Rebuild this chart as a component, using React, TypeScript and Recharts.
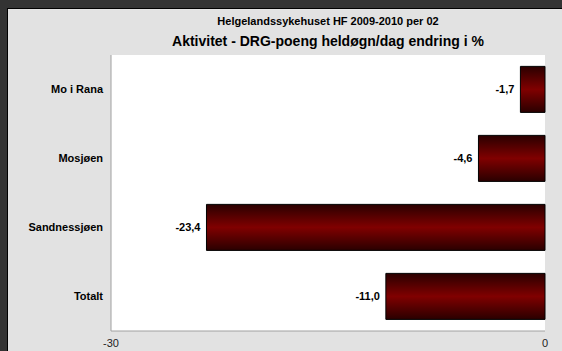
import { BarChart, Bar, XAxis, YAxis, CartesianGrid, LabelList } from "recharts";

const units = ["Mo i Rana", "Mosjøen", "Sandnessjøen", "Totalt"];
const change = [-1.7, -4.6, -23.4, -11.0];
const xTicks = [-30, 0];

const data = units.map((name, i) => ({ name, value: change[i] }));

const font = "'Liberation Sans', Arial, Helvetica, sans-serif";

export default function App() {
  return (
    <div
      style={{
        position: "absolute",
        left: 0,
        top: 0,
        width: 562,
        height: 351,
        background: "#333333",
        overflow: "hidden",
        fontFamily: font,
      }}
    >
      <div
        style={{
          position: "absolute",
          left: 7,
          top: 8,
          width: 562,
          height: 351,
          background: "#e2e2e2",
          borderLeft: "1px solid #000",
          borderTop: "1px solid #000",
        }}
      />
      <div
        style={{
          position: "absolute",
          left: 0,
          width: 656,
          top: 15,
          textAlign: "center",
          fontSize: 11,
          fontWeight: "bold",
          color: "#000",
        }}
      >
        Helgelandssykehuset HF 2009-2010 per 02
      </div>
      <div
        style={{
          position: "absolute",
          left: 0,
          width: 656,
          top: 33,
          textAlign: "center",
          fontSize: 14,
          fontWeight: "bold",
          color: "#000",
        }}
      >
        Aktivitet - DRG-poeng heldøgn/dag endring i %
      </div>
      <div style={{ position: "absolute", left: 0, top: 0 }}>
        <BarChart
          width={562}
          height={351}
          data={data}
          layout="vertical"
          barCategoryGap="16.5%"
          margin={{ top: 55, right: 17, bottom: 0, left: 11 }}
        >
          <defs>
            <linearGradient id="barFill" x1="0" y1="0" x2="0" y2="1">
              <stop offset="0%" stopColor="#2a0000" />
              <stop offset="50%" stopColor="#800000" />
              <stop offset="100%" stopColor="#2a0000" />
            </linearGradient>
          </defs>
          <CartesianGrid fill="#ffffff" horizontal={false} vertical={false} />
          <XAxis
            type="number"
            domain={[-30, 0]}
            ticks={xTicks}
            height={20}
            tickLine={false}
            axisLine={{ stroke: "#a0a0a0" }}
            tick={{ fontSize: 11, fill: "#222", fontFamily: font }}
            tickMargin={2}
          />
          <XAxis
            xAxisId="top"
            orientation="top"
            type="number"
            domain={[-30, 0]}
            height={0}
            tick={false}
            tickLine={false}
            axisLine={{ stroke: "#333" }}
          />
          <YAxis
            type="category"
            dataKey="name"
            width={100}
            tickLine={false}
            axisLine={{ stroke: "#a0a0a0" }}
            tick={{ fontSize: 11, fill: "#000", fontWeight: "bold", fontFamily: font }}
          />
          <YAxis
            yAxisId="right"
            orientation="right"
            type="category"
            dataKey="name"
            width={0}
            tick={false}
            tickLine={false}
            axisLine={{ stroke: "#333" }}
          />
          <Bar
            dataKey="value"
            fill="url(#barFill)"
            stroke="#000"
            strokeWidth={1}
            isAnimationActive={false}
          >
            <LabelList
              dataKey="value"
              position="right"
              offset={6}
              formatter={(v: number) => v.toFixed(1).replace(".", ",")}
              style={{ fontSize: 11, fontWeight: "bold", fill: "#000", fontFamily: font }}
            />
          </Bar>
        </BarChart>
      </div>
    </div>
  );
}
